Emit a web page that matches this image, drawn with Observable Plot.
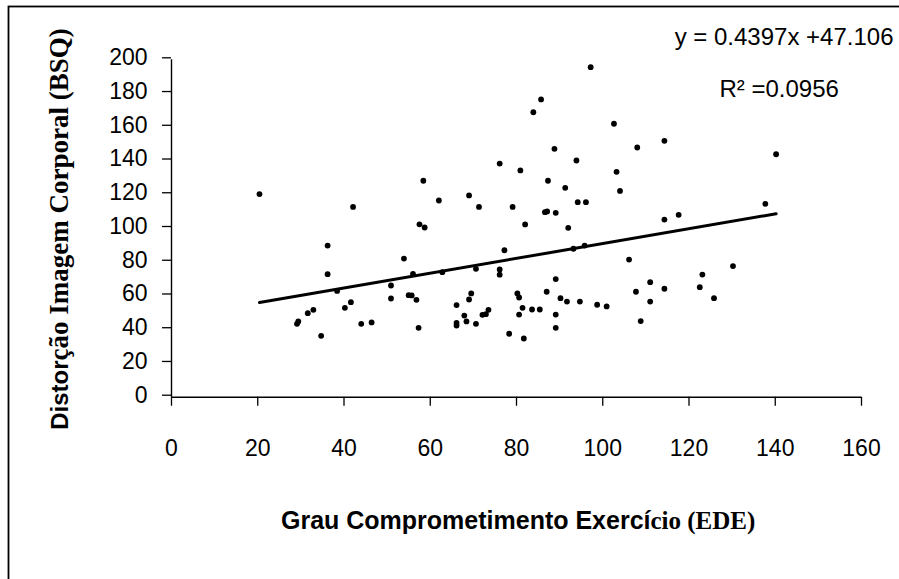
<!DOCTYPE html>
<html><head><meta charset="utf-8">
<script src="https://cdn.jsdelivr.net/npm/d3@7"></script>
<script src="https://cdn.jsdelivr.net/npm/@observablehq/plot@0.6"></script>
<style>
html,body{margin:0;padding:0;background:#fff;}
#chart{position:relative;width:899px;height:579px;overflow:hidden;}
#chart svg{display:block;}
</style></head><body><div id="chart"></div>
<script>
// Grau Comprometimento Exercício (EDE)
const gce = [20.4,29.1,29.4,31.6,32.9,34.7,36.2,36.2,38.4,40.2,
  41.6,42.1,44.0,46.4,50.9,50.9,53.9,55.0,55.7,56.0,
  56.8,57.3,57.5,58.7,58.4,62.0,62.8,66.1,66.1,66.1,
  67.9,68.4,69.0,69.5,69.0,70.6,70.6,71.3,72.1,72.9,
  73.5,76.1,76.1,76.1,77.2,78.3,79.1,80.2,80.6,80.6,
  80.9,81.4,81.7,82.0,83.6,83.9,85.4,85.7,86.6,87.1,
  87.0,87.3,88.8,89.1,89.1,89.1,89.1,90.2,91.3,91.7,
  92.0,93.2,93.9,94.2,94.7,95.8,96.1,97.2,98.7,100.9,
  102.6,103.2,104.0,106.1,107.7,108.0,108.8,111.0,111.0,114.3,
  114.3,114.3,117.6,122.5,123.1,125.8,130.2,137.7,140.2];
// Distorção Imagem Corporal (BSQ)
const bsq = [120.4,43.5,44.9,49.8,51.8,36.4,89.9,72.9,63.0,53.0,
  56.3,112.8,43.5,44.3,66.2,58.5,82.2,60.5,60.3,73.1,
  57.7,41.1,102.5,100.6,128.3,116.6,74.1,54.6,44.1,42.5,
  48.4,44.9,57.9,61.5,119.6,76.1,43.5,112.8,48.8,49.2,
  51.8,75.7,72.6,138.5,87.1,37.6,112.8,61.5,59.1,49.0,
  134.4,53.0,34.8,102.4,52.0,168.9,52.0,176.5,109.7,110.1,
  62.5,128.3,147.2,109.3,70.0,49.0,41.1,58.7,124.1,56.7,
  100.4,88.0,140.3,115.6,56.7,89.9,115.6,195.6,54.8,53.8,
  162.1,133.6,122.3,81.6,62.5,148.0,45.1,68.2,56.7,152.0,
  105.3,64.3,108.1,65.2,72.7,58.7,77.7,114.6,144.0];
const xTicks = [0,20,40,60,80,100,120,140,160];
const yTicks = [0,20,40,60,80,100,120,140,160,180,200];
const slope = 0.4397, intercept = 47.106;
const eqLabel = "y = 0.4397x +47.106";
const r2Label = "R² =0.0956";
const xTitleA = "Grau Comprometimento Exercí", xTitleB = "cio (EDE)";
const yTitleA = "Distor", yTitleB = "ção Imagem Corporal (BSQ)";

const points = gce.map((x, i) => ({x, y: bsq[i]}));
const trend = d3.extent(gce).map(x => ({x, y: slope * x + intercept}));

const sans = "'Liberation Sans', Arial, sans-serif";
const serif = "'Liberation Serif', 'Times New Roman', serif";

const plot = Plot.plot({
  width: 899, height: 579,
  marginLeft: 171, marginRight: 38, marginTop: 59.3, marginBottom: 182.3,
  style: {fontFamily: sans, fontSize: "23px", color: "#000", background: "#fff"},
  x: {domain: [0, 160]},
  y: {domain: [0, 200]},
  marks: [
    Plot.axisX({ticks: xTicks, tickSize: 9, tickPadding: 33, label: null, fontSize: 23, stroke: "#000", strokeWidth: 1.3}),
    Plot.axisY({ticks: yTicks, tickSize: 9, tickPadding: 15, label: null, fontSize: 23, stroke: "#000", strokeWidth: 1.3, dy: -2}),
    Plot.ruleX([0], {stroke: "#000", strokeWidth: 1.4}),
    Plot.ruleY([0], {stroke: "#000", strokeWidth: 1.4}),
    Plot.line(trend, {x: "x", y: "y", stroke: "#000", strokeWidth: 3}),
    Plot.dot(points, {x: "x", y: "y", r: 2.9, fill: "#000"}),
    Plot.text([eqLabel], {text: d => d, frameAnchor: "top-right", textAnchor: "end", lineAnchor: "bottom", dx: 32, dy: -15, fontSize: 24, fill: "#000"}),
    Plot.text([r2Label], {text: d => d, frameAnchor: "top-right", textAnchor: "start", lineAnchor: "bottom", dx: -142, dy: 37, fontSize: 24, fill: "#000"}),
    Plot.text([xTitleA], {text: d => d, frameAnchor: "bottom", textAnchor: "end", lineAnchor: "bottom", dx: 134, dy: 132, fontSize: 25, fontWeight: "bold", fontFamily: sans, fill: "#000"}),
    Plot.text([xTitleB], {text: d => d, frameAnchor: "bottom", textAnchor: "start", lineAnchor: "bottom", dx: 134, dy: 132, fontSize: 25, fontWeight: "bold", fontFamily: serif, fill: "#000"}),
    Plot.text([yTitleA], {text: d => d, frameAnchor: "left", rotate: -90, textAnchor: "end", lineAnchor: "bottom", dx: -104, dy: 132, fontSize: 24, fontWeight: "bold", fontFamily: sans, fill: "#000"}),
    Plot.text([yTitleB], {text: d => d, frameAnchor: "left", rotate: -90, textAnchor: "start", lineAnchor: "bottom", dx: -104, dy: 132, fontSize: 27, fontWeight: "bold", fontFamily: serif, fill: "#000"})
  ]
});

d3.select(plot).insert("rect", ":first-child")
  .attr("x", 8.5).attr("y", 6.5).attr("width", 1000).attr("height", 1000)
  .attr("fill", "none").attr("stroke", "#000").attr("stroke-width", 1.8);

document.getElementById("chart").appendChild(plot);
</script></body></html>
